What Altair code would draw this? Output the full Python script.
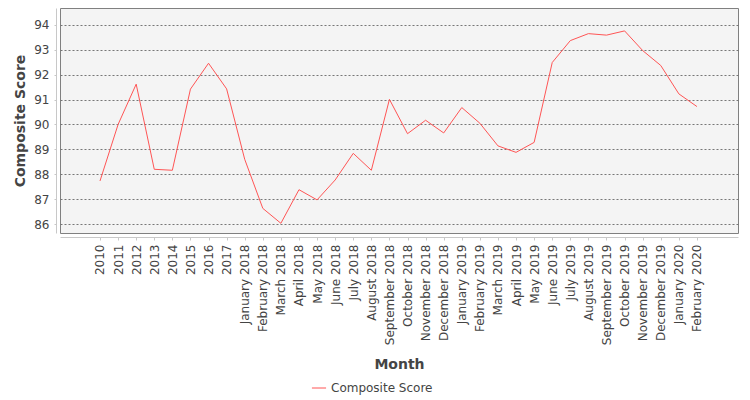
import json
import altair as alt
import pandas as pd

months = ["2010", "2011", "2012", "2013", "2014", "2015", "2016", "2017",
          "January 2018", "February 2018", "March 2018", "April 2018", "May 2018",
          "June 2018", "July 2018", "August 2018", "September 2018", "October 2018",
          "November 2018", "December 2018", "January 2019", "February 2019",
          "March 2019", "April 2019", "May 2019", "June 2019", "July 2019",
          "August 2019", "September 2019", "October 2019", "November 2019",
          "December 2019", "January 2020", "February 2020"]
scores = [87.73, 90.0, 91.62, 88.20, 88.16, 91.42, 92.46, 91.43,
          88.60, 86.63, 86.03, 87.38, 86.97, 87.77, 88.84, 88.16,
          91.01, 89.63, 90.17, 89.66, 90.68, 90.05, 89.14, 88.88,
          89.28, 92.49, 93.37, 93.65, 93.59, 93.76, 92.97, 92.37,
          91.23, 90.72]
series = ["Composite Score"] * len(months)

df = pd.DataFrame({"idx": list(range(len(months))), "Month": months,
                   "Score": scores, "Series": series})

FONT = "DejaVu Sans"
TXT = "#444444"
label_expr = json.dumps(months) + "[datum.value]"

chart = alt.Chart(df).mark_line(strokeWidth=1).encode(
    x=alt.X("idx:Q",
            scale=alt.Scale(domain=[-2.211, 35.27], nice=False, zero=False),
            axis=alt.Axis(title="Month", values=list(range(len(months))),
                          labelExpr=label_expr,
                          labelAngle=-90, labelAlign="right",
                          labelBaseline="middle", labelPadding=4,
                          offset=4, tickSize=3, grid=False,
                          titlePadding=13, labelOverlap=False, labelFlush=False)),
    y=alt.Y("Score:Q", scale=alt.Scale(domain=[85.64, 94.68], nice=False, zero=False),
            axis=alt.Axis(title="Composite Score", values=[86, 87, 88, 89, 90, 91, 92, 93, 94],
                          offset=4, tickSize=2, labelPadding=5, titlePadding=6,
                          grid=True, gridDash=[2, 2], gridColor="#777777", gridWidth=1)),
    color=alt.Color("Series:N", scale=alt.Scale(range=["#ff5555"]),
                    legend=alt.Legend(title=None, orient="none", legendX=251, legendY=372,
                                      symbolType="stroke", symbolStrokeWidth=1,
                                      symbolSize=200, labelFontSize=12,
                                      labelColor=TXT, labelFont=FONT)),
).properties(
    width=678, height=225,
    autosize=alt.AutoSizeParams(type="none"),
    padding={"left": 52, "top": 0, "right": 4, "bottom": 167},
).configure_view(
    fill="#f4f4f4", stroke="#808080", strokeWidth=1
).configure_axis(
    labelFont=FONT, labelFontSize=12, labelColor=TXT,
    titleFont=FONT, titleFontSize=14, titleFontWeight="bold", titleColor=TXT,
    domainColor="#c8c8c8", tickColor="#c8c8c8",
)

chart.save("out.html", embed_options={"renderer": "svg", "actions": False})
